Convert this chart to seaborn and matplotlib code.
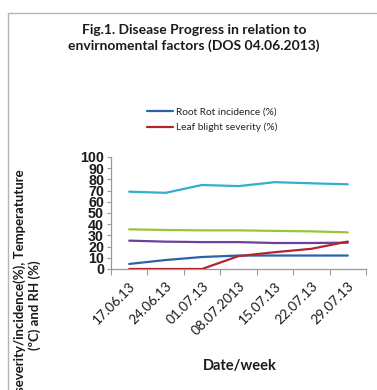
import matplotlib
matplotlib.use("Agg")
import matplotlib.pyplot as plt
from matplotlib.patches import Rectangle
from matplotlib.lines import Line2D
import seaborn as sns
import pandas as pd

weeks = ["17.06.13", "24.06.13", "01.07.13", "08.07.2013", "15.07.13", "22.07.13", "29.07.13"]
root_rot = [4.5, 8, 10.7, 12, 12, 12, 12]
leaf_blight = [0, 0, 0, 11.5, 15, 18, 24.5]
rh = [69, 68, 75, 74, 77.5, 76.5, 75.6]
temp_max = [35.4, 34.8, 34.5, 34.5, 34, 33.6, 32.7]
temp_min = [25.3, 24.4, 24, 24, 23.2, 23.2, 23.5]

series_names = ["Root Rot incidence (%)", "Leaf blight severity (%)",
                "RH (%)", "Max. temperature (ºC)", "Min. temperature (ºC)"]
series_values = [root_rot, leaf_blight, rh, temp_max, temp_min]
colors = ["#2a62ad", "#b3252f", "#33aecb", "#9cc23e", "#6b3f9c"]

df = pd.concat(
    [pd.DataFrame({"week": weeks, "value": v, "series": n})
     for n, v in zip(series_names, series_values)],
    ignore_index=True,
)

sns.set_theme(style="white")
plt.rcParams["font.family"] = ["Lato", "DejaVu Sans"]

fig = plt.figure(figsize=(3.77, 3.90), dpi=100)
ax = fig.add_axes([0.2944, 0.3103, 0.6764, 0.2872])

# outer chart frame
fig.patches.append(Rectangle((8 / 377, -0.1), 1.2, 1.1 - 13 / 390,
                             transform=fig.transFigure, fill=False,
                             edgecolor="#b4b4b4", linewidth=1.0))

draw_order = [2, 3, 4, 0, 1]
for i in draw_order:
    sub = df[df["series"] == series_names[i]]
    sns.lineplot(data=sub, x="week", y="value", color=colors[i], linewidth=1.6,
                 ax=ax, sort=False, legend=False, zorder=3 + (i == 1))

ax.set_xlim(-0.5, len(weeks) - 0.5)
ax.set_ylim(0, 100)
ax.set_xlabel("")
ax.set_ylabel("")

for s in ["top", "right"]:
    ax.spines[s].set_visible(False)
for s in ["left", "bottom"]:
    ax.spines[s].set_color("#9a9a9a")
    ax.spines[s].set_linewidth(0.9)

ax.set_yticks(range(0, 101, 10))
ax.set_yticklabels([str(v) for v in range(0, 101, 10)],
                   fontfamily="Liberation Sans", fontweight="bold", fontsize=10.3)
ax.tick_params(axis="y", length=3, width=0.8, color="#9a9a9a", pad=2,
               labelcolor="#1a1a1a", left=True)

ax.set_xticks(range(len(weeks)))
ax.set_xticklabels(weeks, rotation=45, ha="right", rotation_mode="anchor",
                   fontsize=9.8, color="#1a1a1a")
ax.tick_params(axis="x", length=0, pad=8)
ax.set_xticks([i - 0.5 for i in range(len(weeks) + 1)], minor=True)
ax.tick_params(axis="x", which="minor", length=4, width=0.8, color="#9a9a9a",
               bottom=True)

fig.text(0.515, 1 - 38 / 390,
         "Fig.1. Disease Progress in relation to\nenvirnomental factors (DOS 04.06.2013)",
         ha="center", va="center", fontsize=10, fontweight="bold",
         linespacing=1.3, color="#1a1a1a")

fig.text(240 / 377, 1 - 366 / 390, "Date/week", ha="center", va="center",
         fontsize=10.5, fontweight="bold", color="#1a1a1a")

fig.text(27 / 377, 1 - 305 / 390,
         "Disease severity/incidence(%), Temperatuture\n(ºC) and RH (%)",
         ha="center", va="center", rotation=90, multialignment="center",
         fontsize=9.5, fontweight="bold", color="#1a1a1a", linespacing=1.2)

handles = [Line2D([], [], color=colors[0], linewidth=1.6),
           Line2D([], [], color=colors[1], linewidth=1.6)]
fig.legend(handles, series_names[:2], loc="center left",
           bbox_to_anchor=(143 / 377, 1 - 120 / 390), frameon=False,
           fontsize=7.3, handlelength=2.6, handletextpad=0.3, labelspacing=0.55,
           borderaxespad=0, labelcolor="#222222")

fig.savefig("out.png", dpi=100)
